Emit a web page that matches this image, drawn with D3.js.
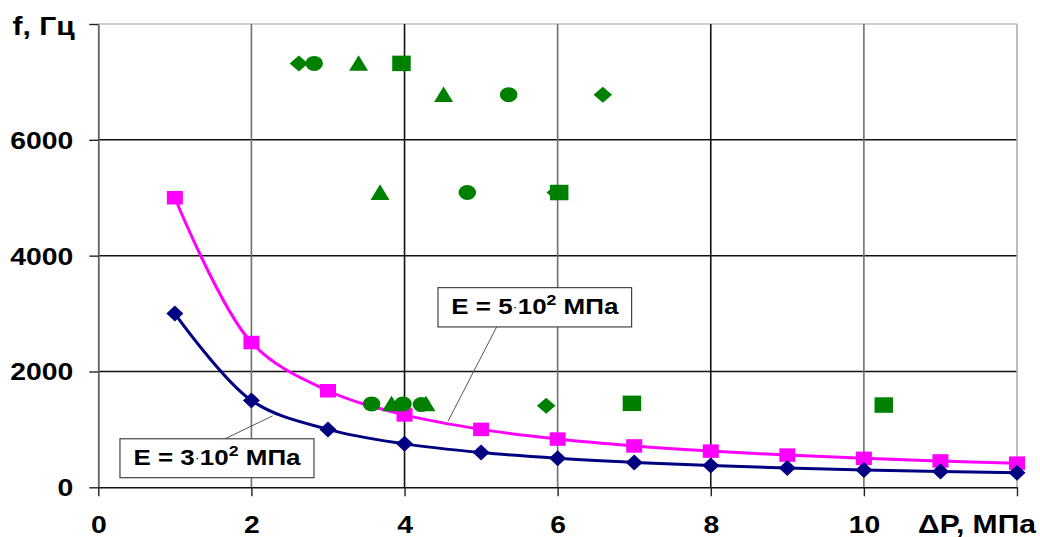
<!DOCTYPE html>
<html>
<head>
<meta charset="utf-8">
<script src="https://cdn.jsdelivr.net/npm/d3@7"></script>
<style>
  html, body { margin: 0; padding: 0; background: #fff; }
  svg { display: block; }
  text { font-family: "Liberation Sans", Arial, sans-serif; font-weight: bold; fill: #000; }
</style>
</head>
<body>
<svg id="chart" width="1040" height="537"></svg>
<script>
// ---- data ----
const xValues = [1, 2, 3, 4, 5, 6, 7, 8, 9, 10, 11, 12];
const fE3 = [3000, 1500, 1000, 750, 600, 500, 429, 375, 333, 300, 273, 250];
const fE5 = [5000, 2500, 1667, 1250, 1000, 833, 714, 625, 556, 500, 455, 417];

const greenDiamondX = [2.62, 6.59, 5.975, 5.85];
const greenDiamondY = [7320, 6780, 5090, 1410];
const greenCircleX = [2.82, 5.36, 4.82, 3.57, 3.98, 4.22];
const greenCircleY = [7320, 6780, 5090, 1440, 1440, 1430];
const greenTriangleX = [3.40, 4.51, 3.68, 3.83, 4.28];
const greenTriangleY = [7320, 6780, 5090, 1440, 1440];
const greenSquareX = [3.96, 6.02, 6.97, 10.26];
const greenSquareY = [7320, 5090, 1450, 1420];

const xTicks = [0, 2, 4, 6, 8, 10, 12];
const xTickLabels = ["0", "2", "4", "6", "8", "10", ""];
const yTicks = [0, 2000, 4000, 6000, 8000];
const yTickLabels = ["0", "2000", "4000", "6000", ""];

// annotation boxes in data units: [x0, x1, yTop, yBottom], leader [xFrom, yFrom, xTo, yTo]
const label1Box = [0.283, 2.817, 838, 166];
const label1Leader = [1.655, 838, 2.278, 1234];
const label1Text = ["E = 3", "·", "10", "2", " МПа"];
const label2Box = [4.437, 6.966, 3448, 2769];
const label2Leader = [5.203, 2769, 4.571, 1148];
const label2Text = ["E = 5", "·", "10", "2", " МПа"];

// ---- chart ----
const svg = d3.select("#chart");
const SX = 1.18; // horizontal text stretch
const x = d3.scaleLinear().domain([0, 12]).range([98.3, 1017]);
const y = d3.scaleLinear().domain([0, 8000]).range([487.3, 24]);

// gridlines
const grid = svg.append("g");
grid.selectAll("line.h").data([2000, 4000, 6000]).join("line")
  .attr("x1", x(0)).attr("x2", x(12))
  .attr("y1", d => y(d)).attr("y2", d => y(d))
  .attr("stroke", "#111").attr("stroke-width", 1.5);
grid.append("line").attr("x1", x(0)).attr("x2", x(12)).attr("y1", y(8000)).attr("y2", y(8000))
  .attr("stroke", "#bdbdbd").attr("stroke-width", 1.5);
grid.selectAll("line.v").data([2, 4, 6, 8, 10]).join("line")
  .attr("x1", d => x(d)).attr("x2", d => x(d))
  .attr("y1", y(0)).attr("y2", y(8000))
  .attr("stroke", d => (d % 4 === 0 ? "#111" : "#707070")).attr("stroke-width", 1.6);
grid.append("line").attr("x1", x(12)).attr("x2", x(12)).attr("y1", y(0)).attr("y2", y(8000))
  .attr("stroke", "#a8a8a8").attr("stroke-width", 1.5);

// axes
const yAxis = svg.append("g").attr("transform", `translate(${x(0)},0)`)
  .call(d3.axisLeft(y).tickValues(yTicks).tickSize(9).tickSizeOuter(0)
    .tickFormat((d, i) => yTickLabels[i]));
yAxis.select(".domain").attr("stroke", "#606060").attr("stroke-width", 1.8);
yAxis.selectAll(".tick line").attr("stroke", "#222").attr("stroke-width", 1.4);
yAxis.selectAll(".tick text")
  .attr("x", null).attr("dy", null)
  .attr("text-anchor", "end")
  .attr("transform", `translate(-25,8.5) scale(${SX},1)`)
  .style("font-size", "24px").style("font-family", null);

const xAxis = svg.append("g").attr("transform", `translate(0,${y(0)})`)
  .call(d3.axisBottom(x).tickValues(xTicks).tickSize(9).tickSizeOuter(0)
    .tickFormat((d, i) => xTickLabels[i]));
xAxis.select(".domain").attr("stroke", "#111").attr("stroke-width", 1.6);
xAxis.selectAll(".tick line").attr("stroke", "#222").attr("stroke-width", 1.4);
xAxis.selectAll(".tick text")
  .attr("y", null).attr("dy", null)
  .attr("text-anchor", "middle")
  .attr("transform", `translate(0,45.5) scale(${SX},1)`)
  .style("font-size", "24px").style("font-family", null);
svg.selectAll(".domain").attr("fill", "none");

// axis titles
svg.append("text").attr("text-anchor", "start")
  .attr("transform", `translate(12.5,35) scale(${SX},1)`)
  .style("font-size", "25.5px").text("f, Гц");
svg.append("text").attr("text-anchor", "end")
  .attr("transform", `translate(1036,533) scale(${SX},1)`)
  .style("font-size", "25.5px").text("ΔP, МПа");

// lines
const line = (ys) => d3.line()
  .x((d, i) => x(xValues[i])).y(d => y(d))
  .curve(d3.curveCatmullRom.alpha(0.5))(ys);

svg.append("path").attr("d", line(fE5)).attr("fill", "none")
  .attr("stroke", "#ff00ff").attr("stroke-width", 3);
svg.append("path").attr("d", line(fE3)).attr("fill", "none")
  .attr("stroke", "#000080").attr("stroke-width", 3);

// marker shapes (unit: half-width/half-height = 1)
const shapes = {
  square: "M-1,-1H1V1H-1Z",
  diamond: "M0,-1L1,0L0,1L-1,0Z",
  triangle: "M0,-1L1,0.9L-1,0.9Z",
  circle: "M-1,0A1,1 0 1,0 1,0A1,1 0 1,0 -1,0Z"
};
function markers(xs, ys, shape, w, h, color) {
  svg.append("g").selectAll("path").data(ys).join("path")
    .attr("d", shapes[shape])
    .attr("transform", (d, i) => `translate(${x(xs[i])},${y(d)}) scale(${w / 2},${h / 2})`)
    .attr("fill", color);
}
markers(xValues, fE5, "square", 16, 13.5, "#ff00ff");
markers(xValues, fE3, "diamond", 17, 16, "#000080");

const G = "#008000";
markers(greenDiamondX, greenDiamondY, "diamond", 18.5, 16, G);
markers(greenSquareX, greenSquareY, "square", 18.5, 15.5, G);
markers(greenCircleX, greenCircleY, "circle", 17.5, 15, G);
markers(greenTriangleX, greenTriangleY, "triangle", 19, 16.5, G);

// annotations
function annotate(box, leader, parts) {
  const g = svg.append("g");
  g.append("line")
    .attr("x1", x(leader[0])).attr("y1", y(leader[1]))
    .attr("x2", x(leader[2])).attr("y2", y(leader[3]))
    .attr("stroke", "#555").attr("stroke-width", 1);
  g.append("rect")
    .attr("x", x(box[0])).attr("y", y(box[2]))
    .attr("width", x(box[1]) - x(box[0])).attr("height", y(box[3]) - y(box[2]))
    .attr("fill", "#fff").attr("stroke", "#444").attr("stroke-width", 1.2);
  const cx = (x(box[0]) + x(box[1])) / 2;
  const by = y(box[3]) - 12.5;
  const t = g.append("text").attr("text-anchor", "middle")
    .attr("transform", `translate(${cx},${by}) scale(${SX},1)`)
    .style("font-size", "22px");
  t.append("tspan").text(parts[0]);
  t.append("tspan").style("font-size", "13px").style("font-weight", "normal").attr("dy", -3).text(parts[1]);
  t.append("tspan").attr("dy", 3).text(parts[2]);
  t.append("tspan").style("font-size", "15px").attr("dy", -9).text(parts[3]);
  t.append("tspan").attr("dy", 9).text(parts[4]);
}
annotate(label1Box, label1Leader, label1Text);
annotate(label2Box, label2Leader, label2Text);
</script>
</body>
</html>
